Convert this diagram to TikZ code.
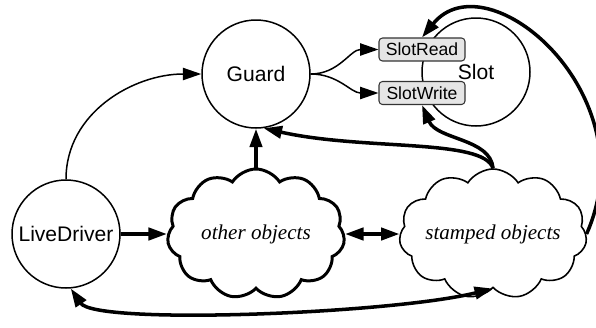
\documentclass[tikz,border=0pt]{standalone}
\usepackage{fontspec}
\setmainfont{Liberation Serif}
\setsansfont{Liberation Sans}
\usetikzlibrary{arrows.meta, positioning, shapes.symbols}

\begin{document}
\begin{tikzpicture}[>={Triangle[length=10.5pt, width=7pt]},
    obj/.style={circle, draw, line width=0.85pt, minimum size=2.16cm,
                inner sep=0pt, font=\sffamily\fontsize{12}{14}\selectfont},
    port/.style={draw=black!80, fill=black!10, rounded corners=2pt,
                 line width=0.6pt, minimum width=1.72cm, minimum height=0.46cm,
                 inner sep=1pt, font=\sffamily\fontsize{10}{12}\selectfont},
    heap/.style={cloud, cloud puffs=11, cloud puff arc=115, cloud ignores aspect,
                 draw, fill=white, minimum width=3.55cm, minimum height=2.6cm,
                 inner sep=0pt, font=\itshape\fontsize{12}{14}\selectfont},
    link/.style={->, line width=0.85pt},
    heavy/.style={->, line width=2pt}]
  \useasboundingbox (0,0) rectangle (11.92,6.54);

  % objects
  \node[obj] (guard) at (5.12, 5.06) {Guard};
  \node[obj] (slot) at (9.52, 5.10) {Slot};
  \node[port] (slotread) at (8.44, 5.55) {SlotRead};
  \node[port] (slotwrite) at (8.44, 4.68) {SlotWrite};
  \node[obj] (live) at (1.32, 1.86) {LiveDriver};
  \node[heap, line width=1.7pt] (other) at (5.12, 1.86) {other objects};
  \node[heap, line width=0.9pt] (stamped) at (9.86, 1.86) {stamped objects};

  % thin links
  \draw[link] (live.north) to[out=90, in=180] (guard.west);
  \draw[link] (guard.east) to[out=0, in=180] (slotread.west);
  \draw[link] (guard.east) to[out=0, in=180] (slotwrite.west);

  % heavy links
  \draw[heavy] (live.east) -- (other.west);
  \draw[heavy] (other.north) -- (guard.south);
  \draw[heavy, <->] (other.east) -- (stamped.west);
  \draw[heavy] (stamped.north) .. controls +(-0.2,0.6) and +(2.0,-0.45) .. (guard.-82);
  \draw[heavy] (stamped.north) .. controls +(-0.05,0.6) and +(0.3,-0.7) .. (slotwrite.south);
  \draw[heavy] (stamped.east) .. controls +(1.25,2.8) and +(1.3,1.6) .. (slotread.north);
  \draw[heavy, <->] (live.-85) .. controls +(0.5,-0.74) and +(-2.0,-0.5) .. (stamped.south);
\end{tikzpicture}
\end{document}
